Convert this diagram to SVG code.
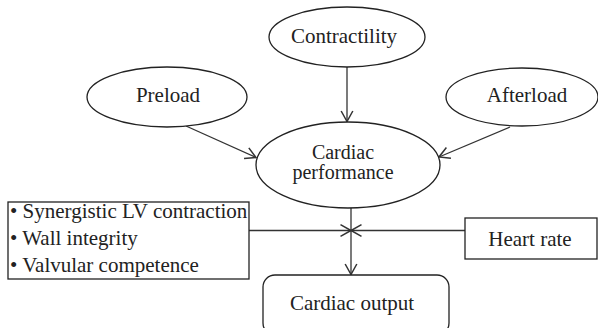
<svg xmlns="http://www.w3.org/2000/svg" width="598" height="328" viewBox="0 0 598 328">
<defs>
<style>
.shape{fill:#fff;stroke:#222;stroke-width:1.3}
.line{fill:none;stroke:#333;stroke-width:1.3}
text{font-family:"Liberation Serif","Times New Roman",serif;font-size:21px;fill:#222}
.c{text-anchor:middle}
.t{font-size:20px}
</style>
<marker id="arr" markerUnits="userSpaceOnUse" markerWidth="14" markerHeight="14" refX="10" refY="6" orient="auto" viewBox="0 0 12 12">
<path d="M1,1 L10,6 L1,11" fill="none" stroke="#333" stroke-width="1.3"/>
</marker>
</defs>
<rect width="598" height="328" fill="#fff"/>
<g id="connectors">
<line class="line" x1="347" y1="67" x2="347" y2="121.5" marker-end="url(#arr)"/>
<line class="line" x1="186" y1="126" x2="256" y2="157.5" marker-end="url(#arr)"/>
<line class="line" x1="510" y1="127" x2="439" y2="157" marker-end="url(#arr)"/>
<line class="line" x1="351" y1="208" x2="351" y2="274.5" marker-end="url(#arr)"/>
<line class="line" x1="249" y1="230.5" x2="351" y2="230.5" marker-end="url(#arr)"/>
<line class="line" x1="465" y1="230.5" x2="351" y2="230.5" marker-end="url(#arr)"/>
</g>
<g id="contractility">
<ellipse class="shape" cx="347" cy="37" rx="78" ry="30"/>
<text class="c" x="344" y="43">Contractility</text>
</g>
<g id="preload">
<ellipse class="shape" cx="167" cy="97" rx="80" ry="30"/>
<text class="c" x="168" y="102">Preload</text>
</g>
<g id="afterload">
<ellipse class="shape" cx="522" cy="97" rx="76" ry="29"/>
<text class="c" x="527" y="102">Afterload</text>
</g>
<g id="cardiac-performance">
<ellipse class="shape" cx="348" cy="165" rx="92" ry="43"/>
<text class="c t" x="343" y="159">Cardiac</text>
<text class="c t" x="343" y="179">performance</text>
</g>
<g id="factors">
<rect class="shape" x="8" y="202" width="241" height="77"/>
<text x="10" y="218">• Synergistic LV contraction</text>
<text x="10" y="245">• Wall integrity</text>
<text x="10" y="272">• Valvular competence</text>
</g>
<g id="heart-rate">
<rect class="shape" x="465" y="218" width="132" height="41"/>
<text class="c" x="530" y="246">Heart rate</text>
</g>
<g id="cardiac-output">
<rect class="shape" x="263" y="275" width="186" height="60" rx="12"/>
<text class="c" x="352" y="310">Cardiac output</text>
</g>
</svg>
